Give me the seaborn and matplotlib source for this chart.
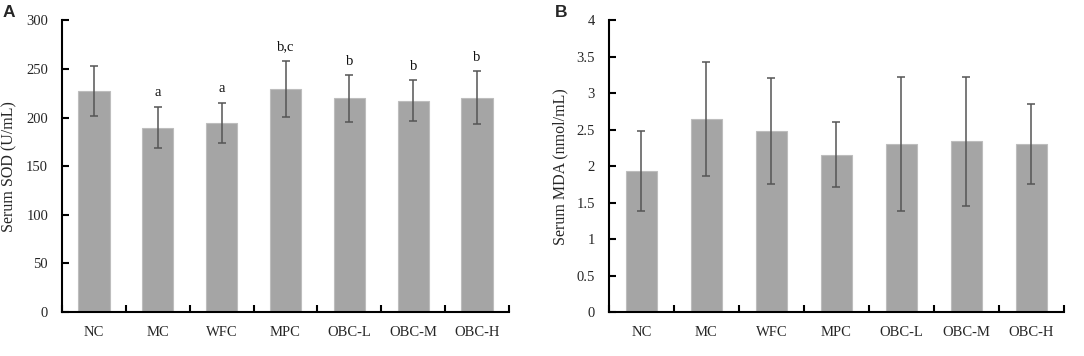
import numpy as np
import pandas as pd
import matplotlib
matplotlib.use("Agg")
import matplotlib.pyplot as plt
import seaborn as sns

groups = ["NC", "MC", "WFC", "MPC", "OBC-L", "OBC-M", "OBC-H"]
sod_mean = [227.4, 189.8, 194.6, 229.5, 219.9, 217.6, 220.6]
sod_err = [25.7, 21.5, 20.6, 29.0, 24.0, 21.0, 27.0]
sod_letters = ["", "a", "a", "b,c", "b", "b", "b"]
mda_mean = [1.93, 2.65, 2.48, 2.16, 2.31, 2.34, 2.30]
mda_err = [0.55, 0.78, 0.73, 0.45, 0.92, 0.89, 0.55]

sns.set_theme(style="white")
plt.rcParams["font.family"] = ["Liberation Serif", "DejaVu Serif"]

fig = plt.figure(figsize=(10.84, 3.56), dpi=100)
axA = fig.add_axes([0.0572, 0.1236, 0.4124, 0.819])
axB = fig.add_axes([0.5618, 0.1236, 0.4197, 0.819])

bar_color = "#a5a5a5"
edge_color = "#bdbdbd"
err_color = "#555555"

def draw(ax, means, errs, ylim, step, ylabel, letters=None, fmt=None):
    df = pd.DataFrame({"group": groups, "value": means})
    sns.barplot(data=df, x="group", y="value", ax=ax, color=bar_color,
                saturation=1, width=0.49, edgecolor=edge_color, linewidth=0.8,
                errorbar=None)
    xs = np.arange(len(groups))
    ax.errorbar(xs, means, yerr=errs, fmt="none", ecolor=err_color,
                elinewidth=1.1, capsize=3.0, capthick=1.1)
    if letters:
        for x, m, e, t in zip(xs, means, errs, letters):
            if t:
                ax.annotate(t, (x, m + e), xytext=(0, 7.5), textcoords="offset points",
                            ha="center", va="baseline", fontsize=10.5, color="#111111")
    ax.set_xlim(-0.5, len(groups) - 0.5)
    ax.set_ylim(0, ylim)
    ticks = np.arange(0, ylim + step / 2, step)
    ax.set_yticks(ticks)
    if fmt:
        ax.set_yticklabels([fmt(t) for t in ticks])
    ax.set_xticks(xs)
    ax.set_xticks(np.arange(-0.5, len(groups)), minor=True)
    ax.tick_params(axis="x", which="major", length=0, pad=10, labelsize=10.5)
    ax.tick_params(axis="x", which="minor", direction="in", length=5, width=1.5,
                   color="black", bottom=True)
    ax.tick_params(axis="y", which="major", direction="in", length=5, width=1.5,
                   color="black", left=True, pad=10, labelsize=10.5)
    for s in ["top", "right"]:
        ax.spines[s].set_visible(False)
    for s in ["left", "bottom"]:
        ax.spines[s].set_color("black")
        ax.spines[s].set_linewidth(1.5)
    ax.set_xlabel("")
    ax.set_ylabel(ylabel, fontsize=11.5, labelpad=6)
    ax.grid(False)

draw(axA, sod_mean, sod_err, 300, 50, "Serum SOD (U/mL)", letters=sod_letters)

def mfmt(t):
    return f"{t:g}"

draw(axB, mda_mean, mda_err, 4, 0.5, "Serum MDA (nmol/mL)", fmt=mfmt)

fig.text(0.002, 0.985, "A", fontsize=12.5, fontweight="bold", va="top", ha="left",
         family=["Liberation Sans", "DejaVu Sans"])
fig.text(0.512, 0.985, "B", fontsize=12.5, fontweight="bold", va="top", ha="left",
         family=["Liberation Sans", "DejaVu Sans"])

fig.savefig("out.png", dpi=100)
